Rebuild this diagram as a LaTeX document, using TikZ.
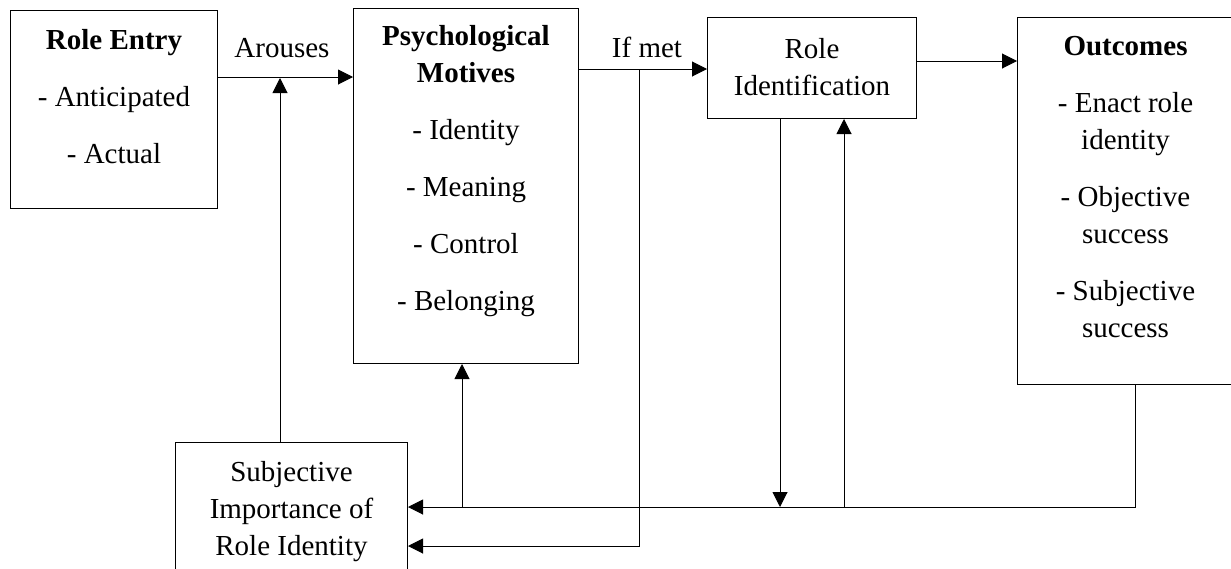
\documentclass[tikz,border=0pt]{standalone}
\usepackage{fontspec}
\setmainfont{Liberation Serif}
\usetikzlibrary{arrows.meta}
\begin{document}
\begin{tikzpicture}[x=1pt,y=-1pt,
  box/.style={draw, line width=1pt, inner sep=0pt, anchor=north west},
  txt/.style={align=center, inner sep=0pt, anchor=north, font=\fontsize{29}{37}\selectfont},
  lbl/.style={inner sep=0pt, font=\fontsize{29}{37}\selectfont},
  conn/.style={line width=1pt},
  arr/.style={conn, -{Triangle[length=15pt,width=15pt]}}]
\useasboundingbox (0,0) rectangle (1231,568);

% boxes
\node[box, minimum width=207pt, minimum height=198pt] (entry) at (10,10) {};
\node[box, minimum width=225pt, minimum height=355pt] (psych) at (353,8) {};
\node[box, minimum width=209pt, minimum height=101pt] (ident) at (707,17) {};
\node[box, minimum width=216pt, minimum height=367pt] (outc) at (1017,17) {};
\node[box, minimum width=232pt, minimum height=150pt] (subj) at (175,442) {};

% box texts
\node[txt] (entryt) at ([yshift=-19pt]entry.north)
  {\textbf{Role Entry}\\[20pt]- Anticipated\\[20pt]- Actual};
\node[txt] (psycht) at ([yshift=-17pt]psych.north)
  {\textbf{Psychological}\\\textbf{Motives}\\[20pt]- Identity\\[20pt]- Meaning\\[20pt]- Control\\[20pt]- Belonging};
\node[txt, anchor=center] (identt) at ([yshift=1pt]ident.center)
  {Role\\Identification};
\node[txt] (outct) at ([yshift=-19pt]outc.north)
  {\textbf{Outcomes}\\[20pt]- Enact role\\identity\\[20pt]- Objective\\success\\[20pt]- Subjective\\success};
\node[txt] (subjt) at ([yshift=-19pt]subj.north)
  {Subjective\\Importance of\\Role Identity};

% connector labels
\node[lbl] (arouses) at (282,48) {Arouses};
\node[lbl] (ifmet) at (647,47) {If met};

% junction points
\coordinate (arousept) at (280,77);
\coordinate (metpt) at (639,69);
\coordinate (lowrow) at (639,546);
\coordinate (outdrop) at (1135,507);
\coordinate (psyfb) at (462,507);
\coordinate (iddown) at (780,507);
\coordinate (idup) at (844,507);
\coordinate (outrow) at (0,61);

% forward path
\draw[arr] (entry.east |- arousept) -- (psych.west |- arousept);
\draw[arr] (subj.north -| arousept) -- ([yshift=-1pt]arousept);
\draw[arr] (psych.east |- metpt) -- (ident.west |- metpt);
\draw[arr] (ident.east |- outrow) -- (outc.west |- outrow);

% feedback paths
\draw[arr] (metpt) -- (lowrow) -- (subj.east |- lowrow);
\draw[arr] (outc.south -| outdrop) -- (outdrop) -- (subj.east |- outdrop);
\draw[arr] (psyfb) -- (psych.south -| psyfb);
\draw[arr] (ident.south -| iddown) -- (iddown);
\draw[arr] (idup) -- (ident.south -| idup);
\end{tikzpicture}
\end{document}
